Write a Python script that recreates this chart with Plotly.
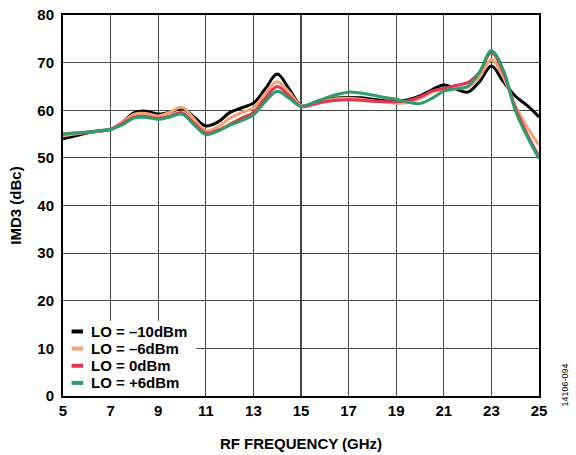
import plotly.graph_objects as go

freq = [5, 5.5, 6, 6.5, 7, 7.5, 8, 8.5, 9, 9.5, 10, 10.5, 11, 11.5, 12, 12.5, 13, 13.5, 14, 14.5,
        15, 15.5, 16, 16.5, 17, 17.5, 18, 18.5, 19, 19.5, 20, 20.5, 21, 21.5, 22, 22.5, 23, 23.5,
        24, 24.5, 25]

lo_m10 = [54.0, 54.6, 55.2, 55.6, 56.0, 57.5, 59.5, 59.8, 59.2, 59.6, 60.4, 58.6, 56.7, 57.5, 59.5,
          60.5, 61.5, 64.5, 67.6, 64.5, 61.0, 61.3, 62.2, 62.6, 62.7, 62.6, 62.3, 62.0, 61.8, 62.2,
          63.0, 64.3, 65.3, 64.5, 63.8, 66.0, 69.3, 66.0, 63.0, 61.0, 58.6]
lo_m6 = [54.6, 55.0, 55.3, 55.6, 56.0, 57.5, 59.2, 59.3, 58.8, 59.6, 60.6, 58.2, 55.7, 56.5, 58.3,
         59.5, 60.5, 63.5, 66.0, 63.8, 61.0, 61.3, 62.0, 62.4, 62.5, 62.3, 62.0, 61.7, 61.5, 61.6,
         62.5, 63.8, 64.5, 64.6, 64.8, 67.0, 70.6, 67.0, 61.0, 56.5, 52.7]
lo_0 = [55.0, 55.2, 55.4, 55.7, 56.0, 57.2, 58.6, 58.7, 58.3, 58.8, 59.5, 57.3, 55.2, 55.8, 57.0,
        58.3, 59.5, 62.5, 65.0, 63.0, 60.8, 61.2, 61.8, 62.1, 62.2, 62.1, 61.9, 61.8, 61.8, 62.0,
        62.8, 64.0, 64.6, 65.2, 65.8, 68.0, 72.1, 68.0, 60.5, 55.0, 50.3]
lo_p6 = [55.0, 55.2, 55.4, 55.7, 56.0, 57.0, 58.4, 58.5, 58.1, 58.6, 59.2, 57.0, 54.9, 55.6, 56.8,
         57.8, 59.0, 61.8, 64.0, 62.5, 60.8, 61.6, 62.5, 63.3, 63.8, 63.6, 63.2, 62.7, 62.3, 61.7,
         61.4, 62.5, 64.0, 64.5, 65.0, 68.0, 72.5, 68.5, 60.0, 54.5, 49.8]

series_names = ["LO = \u201310dBm", "LO = \u20136dBm", "LO = 0dBm", "LO = +6dBm"]
series_values = [lo_m10, lo_m6, lo_0, lo_p6]
series_colors = ["#000000", "#F5A26E", "#E23457", "#2E9C6B"]

x_ticks = [5, 7, 9, 11, 13, 15, 17, 19, 21, 23, 25]
y_ticks = [0, 10, 20, 30, 40, 50, 60, 70, 80]

FONT = "Liberation Sans, Arial, sans-serif"
FS = 15

fig = go.Figure()
for name, vals, col in zip(series_names, series_values, series_colors):
    fig.add_trace(go.Scatter(x=freq, y=vals, mode="lines", name=name, showlegend=False,
                             line=dict(color=col, width=3, shape="spline", smoothing=1.0)))

# compact legend box in the lower-left corner (drawn with shapes + text)
leg_box = dict(x0=5, x1=10.6, y0=0, y1=15.8)
leg_rows_y = [13.55, 9.95, 6.35, 2.75]
leg_line_x = (5.36, 5.84)
leg_text_x = 6.15

fig.add_shape(type="rect", xref="x", yref="y", layer="between",
              fillcolor="white", line=dict(width=0), **leg_box)
for name, col, yy in zip(series_names, series_colors, leg_rows_y):
    fig.add_shape(type="line", xref="x", yref="y", layer="between",
                  x0=leg_line_x[0], x1=leg_line_x[1], y0=yy, y1=yy,
                  line=dict(color=col, width=4))
    fig.add_annotation(text=name, xref="x", yref="y", x=leg_text_x, y=yy,
                       xanchor="left", yanchor="middle", showarrow=False, borderpad=0,
                       font=dict(family=FONT, size=FS, color="black", weight="bold"))

fig.update_layout(
    width=576, height=455,
    margin=dict(l=63, r=37, t=15, b=59),
    paper_bgcolor="white", plot_bgcolor="white",
    font=dict(family=FONT, size=FS, color="black", weight="bold"),
    showlegend=False,
    xaxis=dict(range=[5, 25], tickvals=x_ticks, showgrid=True, gridcolor="#454545", gridwidth=1.2,
               showline=True, linecolor="black", linewidth=2, mirror=True, zeroline=False,
               ticks="", ticklabelstandoff=0, automargin=False,
               title=dict(text="RF FREQUENCY (GHz)", standoff=20,
                          font=dict(family=FONT, size=FS, weight="bold")),
               tickfont=dict(family=FONT, size=FS, weight="bold")),
    yaxis=dict(range=[0, 80], tickvals=y_ticks, showgrid=True, gridcolor="#454545", gridwidth=1.2,
               showline=True, linecolor="black", linewidth=2, mirror=True, zeroline=False,
               ticks="", ticklabelstandoff=4, automargin=False,
               title=dict(text="IMD3 (dBc)", standoff=12,
                          font=dict(family=FONT, size=FS, weight="bold")),
               tickfont=dict(family=FONT, size=FS, weight="bold")),
)

fig.add_annotation(text="14106-094", xref="paper", yref="paper", x=1.0546, y=0.03,
                   xanchor="center", yanchor="middle", textangle=-90, showarrow=False,
                   font=dict(family=FONT, size=9, color="black", weight="normal"))

fig.write_html("out.html", config={"displayModeBar": False, "staticPlot": True},
               post_script="document.body.style.margin='0';document.body.style.overflow='hidden';")
